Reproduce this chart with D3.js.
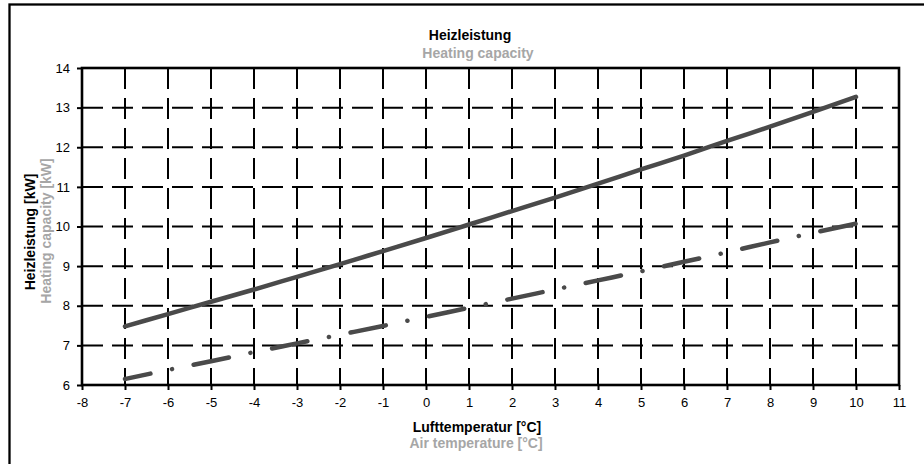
<!DOCTYPE html>
<html>
<head>
<meta charset="utf-8">
<script src="https://d3js.org/d3.v7.min.js"></script>
<style>
  body { margin: 0; background: #fff; }
  text { font-family: "Liberation Sans", Arial, sans-serif; }
</style>
</head>
<body>
<div id="chart"></div>
<script>
// temperatures [°C]
var temps = [-7, -6, -5, -4, -3, -2, -1, 0, 1, 2, 3, 4, 5, 6, 7, 8, 9, 10];
// solid curve [kW]
var capSolid = [7.48, 7.79, 8.10, 8.41, 8.73, 9.05, 9.38, 9.71, 10.05, 10.39, 10.73, 11.08, 11.44, 11.79, 12.16, 12.52, 12.89, 13.27];
// dash-dot curve [kW]
var capDashed = [6.15, 6.38, 6.60, 6.83, 7.05, 7.27, 7.49, 7.72, 7.95, 8.18, 8.41, 8.64, 8.87, 9.11, 9.35, 9.60, 9.84, 10.07];
var xTicks = [-8, -7, -6, -5, -4, -3, -2, -1, 0, 1, 2, 3, 4, 5, 6, 7, 8, 9, 10, 11];
var yTicks = [6, 7, 8, 9, 10, 11, 12, 13, 14];

var width = 924,
    height = 464;
var plotLeft = 82, plotRight = 899, plotTop = 68, plotBottom = 385;
var lineColor = "#4a4a4a";
var grey = "#a6a6a6";

var svg = d3.select("#chart")
            .append("svg")
            .attr("width", width)
            .attr("height", height);

// outer frame (runs off the picture right and bottom)
svg.append("rect")
   .attr("x", 9.5).attr("y", 4.5)
   .attr("width", 960).attr("height", 500)
   .attr("fill", "none")
   .attr("stroke", "#000")
   .attr("stroke-width", 2.3);

var x = d3.scaleLinear().domain([-8, 11]).range([plotLeft, plotRight]);
var y = d3.scaleLinear().domain([6, 14]).range([plotBottom, plotTop]);

// grid
svg.append("g").selectAll("line")
   .data(xTicks.slice(1, -1))
   .enter().append("line")
   .attr("x1", function(d){ return x(d) })
   .attr("x2", function(d){ return x(d) })
   .attr("y1", plotTop).attr("y2", plotBottom)
   .attr("stroke", "#000")
   .attr("stroke-width", 2)
   .attr("stroke-dasharray", "21,9");

svg.append("g").selectAll("line")
   .data(yTicks.slice(1, -1))
   .enter().append("line")
   .attr("y1", function(d){ return y(d) })
   .attr("y2", function(d){ return y(d) })
   .attr("x1", plotLeft).attr("x2", plotRight)
   .attr("stroke", "#000")
   .attr("stroke-width", 2)
   .attr("stroke-dasharray", "21,9");

// axes
var xAxis = svg.append("g")
   .attr("transform", "translate(0," + plotBottom + ")")
   .call(d3.axisBottom(x).tickValues(xTicks).tickSize(5).tickPadding(8).tickFormat(function(d){ return String(d) }));
var yAxis = svg.append("g")
   .attr("transform", "translate(" + plotLeft + ",0)")
   .call(d3.axisLeft(y).tickValues(yTicks).tickSize(5).tickPadding(7).tickFormat(function(d){ return String(d) }));
[xAxis, yAxis].forEach(function(a){
    a.select(".domain").remove();
    a.selectAll(".tick line").attr("stroke", "#000").attr("stroke-width", 2);
    a.selectAll(".tick text")
     .attr("fill", "#000")
     .style("font-size", "13px")
     .style("font-family", "'Liberation Sans', Arial, sans-serif");
});

// plot border
svg.append("rect")
   .attr("x", plotLeft).attr("y", plotTop)
   .attr("width", plotRight - plotLeft).attr("height", plotBottom - plotTop)
   .attr("fill", "none")
   .attr("stroke", "#000")
   .attr("stroke-width", 2.6);

// series
var line = d3.line()
   .x(function(d){ return x(d[0]) })
   .y(function(d){ return y(d[1]) })
   .curve(d3.curveMonotoneX);

svg.append("path")
   .datum(d3.zip(temps, capSolid))
   .attr("d", line)
   .attr("fill", "none")
   .attr("stroke", lineColor)
   .attr("stroke-width", 4.5)
   .attr("stroke-linecap", "round");

svg.append("path")
   .datum(d3.zip(temps, capDashed))
   .attr("d", line)
   .attr("fill", "none")
   .attr("stroke", lineColor)
   .attr("stroke-width", 4.5)
   .attr("stroke-linecap", "round")
   .attr("stroke-dasharray", "36,22,0.1,22")
   .attr("stroke-dashoffset", 10);

// titles
function label(txt, px, py, color, rot){
    var t = svg.append("text")
       .attr("text-anchor", "middle")
       .attr("font-weight", "bold")
       .attr("font-size", "14px")
       .attr("fill", color)
       .text(txt);
    if (rot) {
        t.attr("transform", "translate(" + px + "," + py + ") rotate(-90)");
    } else {
        t.attr("x", px).attr("y", py);
    }
    return t;
}
label("Heizleistung", 470, 40, "#000");
label("Heating capacity", 478, 58, grey);
label("Lufttemperatur [°C]", 477, 432, "#000");
label("Air temperature [°C]", 476, 448, grey);
label("Heizleistung [kW]", 35, 232, "#000", true);
label("Heating capacity [kW]", 51, 231, grey, true);
</script>
</body>
</html>
